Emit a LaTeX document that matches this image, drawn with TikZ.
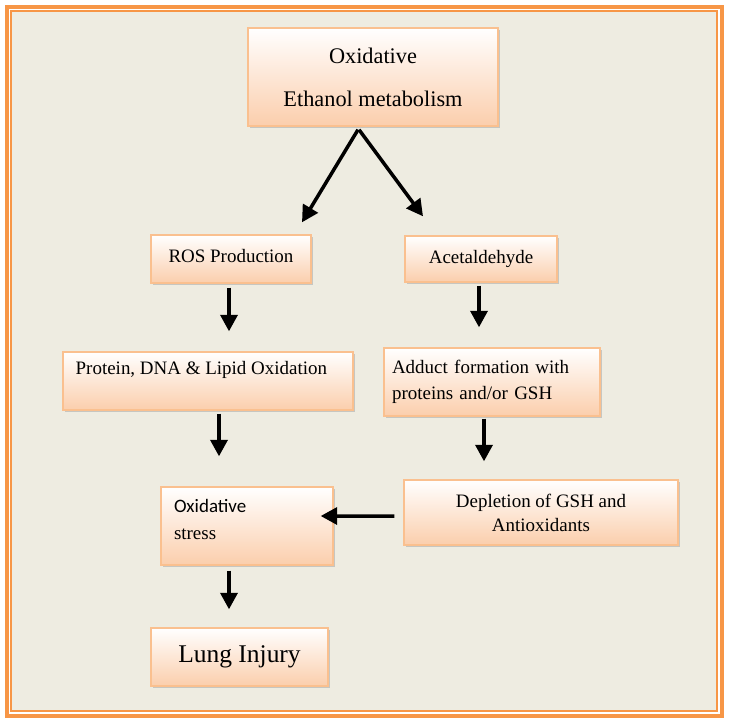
\documentclass[tikz,border=0pt]{standalone}
\usepackage{fontspec}
\setmainfont{Liberation Serif}
\newfontfamily\calibrifont{Carlito}
\usetikzlibrary{shapes,arrows.meta,calc,shadows}
\definecolor{frameorange}{RGB}{247,150,70}
\definecolor{paper}{RGB}{238,236,225}
\definecolor{boxedge}{RGB}{250,192,143}
\definecolor{boxpeach}{RGB}{251,206,172}

\tikzset{
  stepbox/.style={draw=boxedge, line width=0.8pt, top color=white, bottom color=boxpeach,
    drop shadow={shadow xshift=1.2pt, shadow yshift=-1.2pt, fill=black!40, opacity=0.45}},
  flow/.style={->, line width=2pt}
}

\begin{document}
\begin{tikzpicture}[x=0.02cm, y=-0.02cm, >={Triangle[width=0.34cm,length=0.33cm]}, font=\fontsize{10.8}{13}\selectfont]

% page and frame
\fill[white] (0,0) rectangle (729,723);
\draw[frameorange, line width=2.3pt, fill=white] (7,7) rectangle (722,716);
\draw[frameorange, line width=0.85pt, fill=paper] (11,11) rectangle (717,711);
\useasboundingbox (0,0) rectangle (729,723);

\node[stepbox, minimum width=5cm, minimum height=1.96cm, align=center, font=\fontsize{12.7}{15}\selectfont] at (373,77) (met) {Oxidative\\[0.33cm]Ethanol metabolism};

\node[stepbox, minimum width=3.2cm, minimum height=0.96cm] at (231,259) (ros) {\raisebox{4pt}{ROS Production}};
\node[stepbox, minimum width=3.04cm, minimum height=0.92cm] at (481,259) (acet) {\raisebox{2pt}{Acetaldehyde}};
\draw [flow] ($(met.south)+(-15,3)$) -- ($(ros.north)+(71,-12)$);
\draw [flow] ($(met.south)+(-14,3)$) -- ($(acet.north)+(-58,-19)$);

\node[stepbox, minimum width=5.8cm, minimum height=1.16cm] at (208,381) (prot) {};
\node[anchor=west, inner sep=0pt] at ($(prot.west)+(13,-11)$) (prottext) {Protein, DNA \& Lipid Oxidation};
\draw [flow] ($(ros.south)+(-2,4)$) -- ($(prot.north)+(21,-20)$);

\node[stepbox, minimum width=4.32cm, minimum height=1.36cm, text width=4cm, inner xsep=0.16cm, align=left, font=\fontsize{10.8}{14.7}\selectfont] at (492,382) (adduct) {Adduct formation with\\proteins and/or GSH};
\draw [flow] ($(acet.south)+(-2,3)$) -- ($(adduct.north)+(-13,-20)$);

\node[stepbox, minimum width=3.44cm, minimum height=1.56cm, text width=2.92cm, inner xsep=0.26cm, align=left, font=\fontsize{10.8}{15.3}\selectfont] at (247,526) (oxs) {{\calibrifont Oxidative}\\stress\\[-7.3pt]\mbox{}};
\draw [flow] ($(prot.south)+(11,3)$) -- ($(oxs.north)+(-28,-30)$);

\node[stepbox, minimum width=5.48cm, minimum height=1.3cm, align=center, font=\fontsize{10.8}{13.6}\selectfont] at (541,512.5) (depl) {Depletion of GSH and\\Antioxidants};
\draw [flow] ($(adduct.south)+(-8,2)$) -- ($(depl.north)+(-57,-18)$);
\draw [flow] ($(depl.west)+(-9,3.5)$) -- ($(oxs.east)+(-13,-10)$);

\node[stepbox, minimum width=3.54cm, minimum height=1.16cm, font=\fontsize{14.5}{17}\selectfont] at (239.5,657) (lung) {\raisebox{3pt}{Lung Injury}};
\draw [flow] ($(oxs.south)+(-18,5)$) -- ($(lung.north)+(-10.5,-18)$);

\end{tikzpicture}
\end{document}
